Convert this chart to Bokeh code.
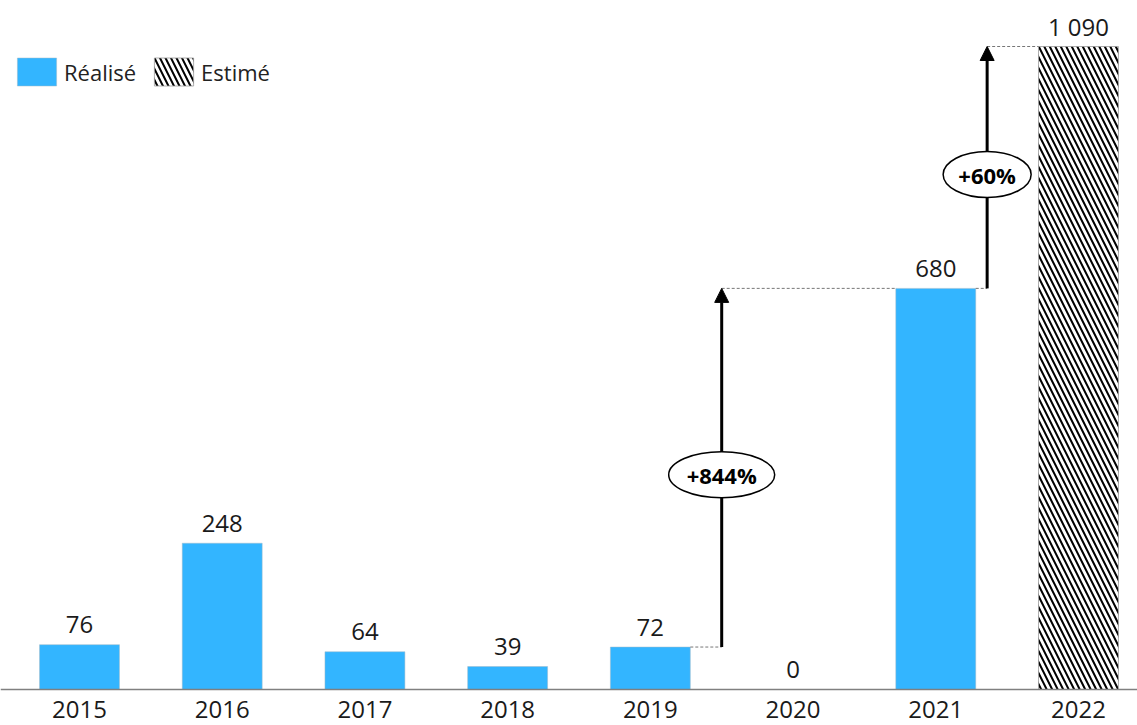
from bokeh.plotting import figure
from bokeh.models import (ColumnDataSource, Range1d, Span, Arrow, NormalHead,
                          Legend, LegendItem)
from bokeh.core.properties import value
from bokeh.embed import file_html
from bokeh.resources import INLINE

# ---------------- data ----------------
years = ["2015", "2016", "2017", "2018", "2019", "2020", "2021", "2022"]
values = [76, 248, 64, 39, 72, 0, 680, 1090]
status = ["Réalisé", "Réalisé", "Réalisé", "Réalisé", "Réalisé", "Réalisé", "Réalisé", "Estimé"]
growth_from = ["2019", "2021"]
growth_to = ["2021", "2022"]
growth_labels = ["+844%", "+60%"]

# ---------------- style ----------------
FONT = "Open Sans"
BLUE = "#33B5FF"
BAR_W = 0.56
ARROW_X = [4.5, 6.36]

xs = list(range(len(years)))
labels = [f"{v:,}".replace(",", " ") for v in values]

real = [i for i, s in enumerate(status) if s == "Réalisé"]
est = [i for i, s in enumerate(status) if s == "Estimé"]
src_real = ColumnDataSource(dict(x=[xs[i] for i in real], top=[values[i] for i in real]))
src_est = ColumnDataSource(dict(x=[xs[i] for i in est], top=[values[i] for i in est]))
src_lab = ColumnDataSource(dict(x=xs, y=values, t=labels))
src_year = ColumnDataSource(dict(x=xs, y=[0] * len(xs), t=years))

p = figure(width=1137, height=725, output_backend="svg", toolbar_location=None,
           x_range=Range1d(-0.5536, 7.4136), y_range=Range1d(-61.0, 1168.0),
           min_border=0, outline_line_color=None)
p.xaxis.visible = False
p.yaxis.visible = False
p.grid.visible = False

r_real = p.vbar(x="x", top="top", width=BAR_W, source=src_real, fill_color=BLUE,
                line_color="#9fb8c8", line_width=0.5)
r_est = p.vbar(x="x", top="top", width=BAR_W, source=src_est, fill_color="white",
               line_color="#999999", line_width=0.8,
               hatch_pattern="\\", hatch_color="black", hatch_weight=2, hatch_scale=11)

p.add_layout(Span(location=0, dimension="width", line_color="#808080", line_width=1.5))

# value labels
p.text(x="x", y="y", text="t", source=src_lab, text_align="center",
       text_baseline="alphabetic", y_offset=-20, text_font=value(FONT),
       text_font_size="24px", text_color="#1a1a1a")
# year labels
p.text(x="x", y="y", text="t", source=src_year, text_align="center",
       text_baseline="alphabetic", y_offset=20, text_font=value(FONT),
       text_font_size="24px", text_color="#1a1a1a")

# growth arrows
for k in range(len(growth_labels)):
    i0 = years.index(growth_from[k])
    i1 = years.index(growth_to[k])
    v0, v1 = values[i0], values[i1]
    ax = ARROW_X[k]
    # dashed guides
    p.segment(x0=[xs[i0] + BAR_W / 2], y0=[v0], x1=[ax], y1=[v0],
              line_color="#777777", line_width=1, line_dash="3 2")
    p.segment(x0=[ax], y0=[v1], x1=[xs[i1] - BAR_W / 2], y1=[v1],
              line_color="#777777", line_width=1, line_dash="3 2")
    arr = Arrow(x_start=ax, y_start=v0, x_end=ax, y_end=v1, line_width=3,
                line_color="black",
                end=NormalHead(size=14, fill_color="black", line_color="black"),
                level="glyph")
    p.add_layout(arr)
    ym = (v0 + v1) / 2 - 12
    w = 106 if len(growth_labels[k]) > 4 else 88
    p.ellipse(x=[ax], y=[ym], width=w, height=46, width_units="screen",
              height_units="screen", fill_color="white", line_color="black",
              line_width=1.5, level="overlay")
    p.text(x=[ax], y=[ym], text=[growth_labels[k]], text_align="center",
           text_baseline="middle", text_font=value(FONT), text_font_size="22px",
           text_font_style="bold", text_color="black", level="overlay")

legend = Legend(items=[LegendItem(label="Réalisé", renderers=[r_real]),
                       LegendItem(label="Estimé", renderers=[r_est])],
                orientation="horizontal", location=(12, 636),
                glyph_width=49, glyph_height=35, label_height=35,
                label_standoff=3, spacing=13, padding=0, margin=0,
                border_line_color=None, background_fill_alpha=0,
                label_text_font=FONT, label_text_font_size="22px",
                label_text_color="#222222", label_text_baseline="middle")
p.add_layout(legend)

open("out.html", "w").write(file_html(p, INLINE))
